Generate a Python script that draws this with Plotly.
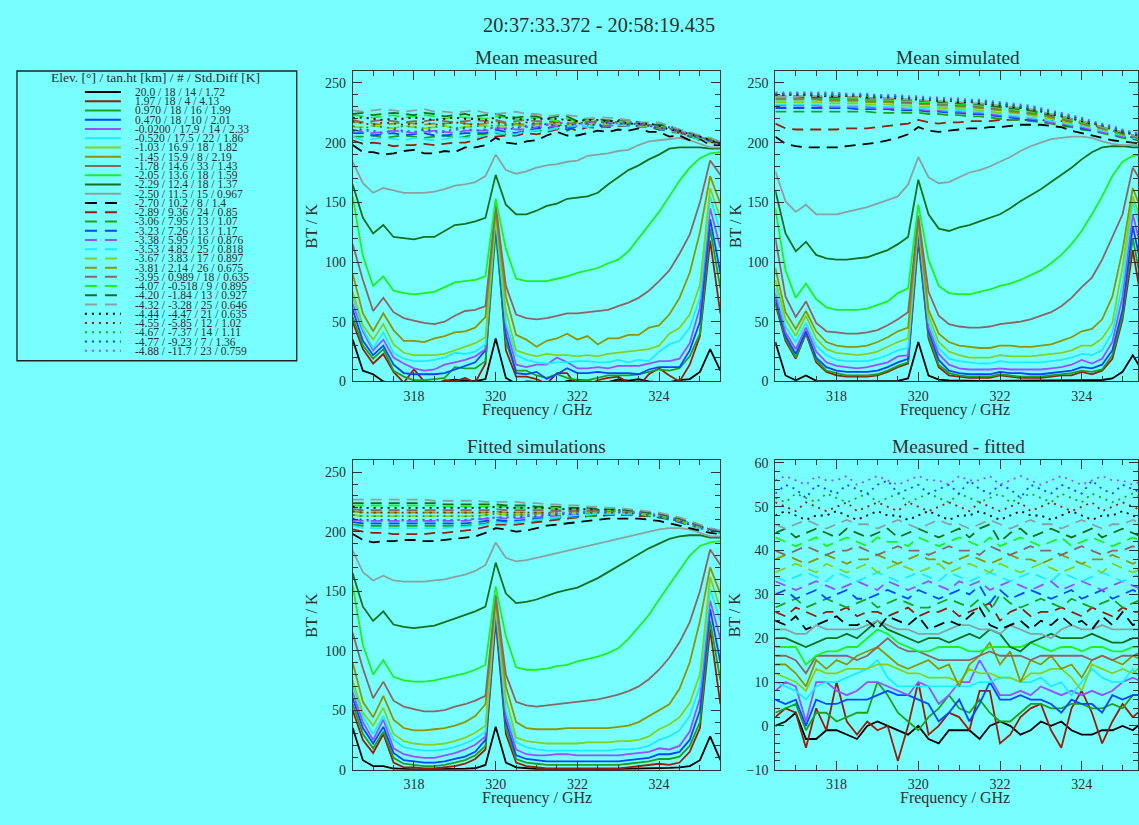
import plotly.graph_objects as go

# ---------------- data ----------------
freq_ghz = [316.50, 316.75, 317.00, 317.25, 317.50, 317.75, 318.00, 318.25, 318.50, 318.75,
            319.00, 319.25, 319.50, 319.75, 320.00, 320.25, 320.50, 320.75, 321.00, 321.25,
            321.50, 321.75, 322.00, 322.25, 322.50, 322.75, 323.00, 323.25, 323.50, 323.75,
            324.00, 324.25, 324.50, 324.75, 325.00, 325.25, 325.50]

elev_deg = ["20.0", "1.97", "0.970", "0.470", "-0.0200", "-0.520", "-1.03", "-1.45", "-1.78", "-2.05",
            "-2.29", "-2.50", "-2.70", "-2.89", "-3.06", "-3.23", "-3.38", "-3.53", "-3.67", "-3.81",
            "-3.95", "-4.07", "-4.20", "-4.32", "-4.44", "-4.55", "-4.67", "-4.77", "-4.88"]
tanht_km = ["18", "18", "18", "18", "17.9", "17.5", "16.9", "15.9", "14.6", "13.6",
            "12.4", "11.5", "10.2", "9.36", "7.95", "7.26", "5.95", "4.82", "3.83", "2.14",
            "0.989", "-0.518", "-1.84", "-3.28", "-4.47", "-5.85", "-7.37", "-9.23", "-11.7"]
n_spectra = ["14", "4", "16", "10", "14", "22", "18", "8", "33", "18",
             "18", "15", "8", "24", "13", "13", "16", "25", "17", "26",
             "18", "9", "13", "25", "21", "12", "14", "7", "23"]
std_diff_k = ["1.72", "4.13", "1.99", "2.01", "2.33", "1.86", "1.82", "2.19", "1.43", "1.59",
              "1.37", "0.967", "1.4", "0.85", "1.07", "1.17", "0.876", "0.818", "0.897", "0.675",
              "0.635", "0.895", "0.927", "0.646", "0.635", "1.02", "1.11", "1.36", "0.759"]

# fitted simulations (K)
fit_0 = [35, 8, 3, 3, 1, 0.5, 0.3, 0.3, 0.3, 0.4, 0.5, 0.8, 1.2, 4, 36, 6, 2, 1, 0.6, 0.5, 0.4, 0.4, 0.5, 0.5, 0.5, 0.5, 0.6, 0.7, 0.8, 1, 1.2, 1.5, 2, 3, 8, 28, 8]
fit_1 = [50, 25, 14, 30, 6, 2, 2, 1, 1, 2, 3, 5, 9, 17, 125, 30, 6, 3, 2, 1, 1, 1, 1, 1, 1, 1, 1, 2, 3, 4, 5, 4, 6, 15, 35, 118, 55]
fit_2 = [55, 30, 18, 32, 10, 5, 4, 3, 3, 4, 6, 8, 12, 20, 130, 35, 9, 6, 5, 4, 4, 4, 4, 4, 4, 4, 4, 5, 6, 7, 9, 9, 11, 20, 40, 125, 75]
fit_3 = [60, 35, 22, 36, 14, 8, 7, 6, 6, 7, 9, 11, 15, 25, 133, 40, 12, 9, 8, 7, 7, 7, 7, 7, 7, 7, 7, 8, 9, 10, 13, 13, 15, 25, 50, 135, 90]
fit_4 = [65, 40, 25, 42, 18, 13, 11, 10, 10, 12, 14, 17, 21, 28, 136, 45, 17, 13, 12, 12, 13, 13, 12, 12, 12, 12, 12, 13, 14, 15, 18, 17, 20, 32, 60, 142, 110]
fit_5 = [70, 45, 30, 45, 25, 19, 17, 16, 16, 17, 19, 22, 26, 32, 138, 50, 23, 19, 17, 16, 16, 16, 16, 16, 16, 16, 17, 17, 18, 20, 25, 28, 33, 45, 70, 152, 125]
fit_6 = [75, 48, 37, 52, 30, 24, 22, 21, 21, 22, 24, 27, 31, 37, 140, 60, 27, 24, 23, 22, 22, 22, 22, 23, 23, 23, 24, 24, 25, 28, 34, 38, 44, 56, 80, 162, 135]
fit_7 = [90, 57, 44, 62, 42, 35, 33, 33, 34, 35, 37, 40, 45, 55, 143, 70, 40, 35, 34, 34, 34, 35, 35, 35, 35, 35, 36, 37, 40, 45, 50, 55, 68, 90, 125, 170, 148]
fit_8 = [115, 85, 60, 74, 58, 53, 51, 49, 49, 50, 53, 55, 58, 62, 147, 80, 57, 54, 53, 54, 55, 56, 57, 58, 59, 61, 63, 66, 70, 76, 84, 94, 107, 124, 150, 185, 172]
fit_9 = [155, 105, 80, 92, 78, 75, 74, 74, 75, 77, 79, 81, 84, 88, 154, 112, 86, 84, 84, 85, 87, 88, 91, 93, 95, 98, 102, 110, 120, 130, 143, 155, 168, 180, 188, 191, 192]
fit_10 = [165, 137, 125, 133, 122, 120, 119, 120, 121, 124, 127, 130, 133, 137, 174, 148, 140, 141, 143, 146, 149, 151, 153, 157, 161, 166, 171, 176, 181, 186, 190, 194, 196, 197, 197, 195, 195]
fit_11 = [184, 166, 159, 163, 159, 158, 158, 158, 159, 160, 162, 164, 167, 172, 191, 178, 175, 176, 178, 180, 182, 184, 186, 188, 190, 192, 194, 196, 198, 200, 202, 203, 203, 202, 199, 196, 196]
fit_12 = [198, 193, 191, 192, 192, 193, 193, 192, 192, 193, 194, 195, 196, 199, 203, 202, 200, 201, 203, 205, 206, 207, 208, 209, 210, 211, 211, 211, 211, 210, 209, 207, 205, 203, 201, 199, 198]
fit_13 = [202, 200, 199, 199, 198, 198, 198, 198, 199, 199, 200, 201, 202, 204, 206, 206, 206, 207, 208, 209, 210, 211, 212, 213, 213, 214, 214, 214, 213, 213, 212, 211, 209, 207, 204, 202, 200]
fit_14 = [206, 205, 205, 205, 205, 205, 205, 205, 205, 205, 205, 205, 206, 207, 209, 208, 208, 209, 210, 211, 211, 212, 212, 213, 213, 214, 214, 214, 214, 213, 212, 210, 208, 205, 203, 201, 199]
fit_15 = [208, 207, 207, 207, 207, 207, 207, 207, 207, 207, 207, 207, 208, 209, 210, 209, 209, 210, 211, 212, 212, 213, 213, 214, 214, 214, 215, 215, 214, 214, 212, 211, 208, 206, 203, 201, 199]
fit_16 = [210, 209, 209, 209, 209, 209, 209, 209, 209, 209, 209, 209, 210, 211, 212, 211, 211, 212, 212, 213, 213, 214, 214, 215, 215, 215, 215, 215, 215, 214, 213, 211, 209, 206, 203, 201, 199]
fit_17 = [205, 203, 203, 203, 203, 203, 203, 203, 203, 203, 204, 204, 205, 206, 208, 207, 208, 209, 210, 211, 212, 213, 214, 214, 215, 215, 215, 215, 215, 214, 213, 211, 209, 206, 203, 201, 199]
fit_18 = [214, 213, 213, 213, 213, 213, 213, 213, 213, 213, 213, 213, 213, 214, 215, 214, 214, 214, 215, 215, 215, 215, 216, 216, 216, 216, 216, 216, 215, 214, 213, 211, 209, 206, 204, 201, 200]
fit_19 = [217, 216, 216, 216, 216, 216, 216, 216, 216, 216, 216, 216, 216, 216, 217, 216, 216, 216, 216, 216, 217, 217, 217, 217, 217, 217, 217, 216, 216, 215, 213, 211, 209, 207, 204, 202, 200]
fit_20 = [219, 218, 218, 218, 218, 218, 218, 218, 218, 218, 218, 218, 218, 218, 219, 218, 218, 218, 218, 218, 218, 218, 218, 218, 218, 218, 217, 217, 216, 215, 214, 212, 210, 207, 204, 202, 200]
fit_21 = [222, 222, 222, 222, 222, 222, 222, 222, 222, 221, 221, 221, 221, 221, 221, 221, 220, 220, 220, 220, 219, 219, 219, 219, 219, 218, 218, 217, 216, 215, 214, 212, 210, 207, 204, 202, 200]
fit_22 = [224, 224, 224, 224, 224, 224, 224, 224, 224, 223, 223, 223, 223, 223, 223, 222, 222, 222, 221, 221, 221, 220, 220, 220, 219, 219, 219, 218, 217, 216, 215, 213, 211, 208, 205, 202, 200]
fit_23 = [227, 227, 227, 227, 227, 227, 227, 227, 226, 226, 226, 226, 226, 225, 225, 225, 225, 224, 224, 223, 223, 222, 222, 221, 221, 220, 220, 219, 218, 217, 216, 214, 212, 209, 206, 203, 201]
fit_24 = [221, 220, 220, 220, 220, 220, 220, 220, 220, 220, 220, 220, 220, 220, 221, 220, 220, 220, 220, 220, 219, 219, 219, 219, 218, 218, 218, 217, 216, 215, 214, 212, 210, 207, 204, 202, 200]
fit_25 = [217, 216, 216, 216, 216, 216, 216, 216, 216, 216, 216, 216, 216, 216, 217, 216, 216, 216, 216, 216, 216, 216, 217, 217, 217, 217, 217, 216, 216, 215, 213, 211, 209, 206, 204, 202, 200]
fit_26 = [214, 213, 213, 213, 213, 213, 213, 213, 213, 213, 213, 213, 213, 214, 215, 214, 214, 214, 215, 215, 215, 216, 216, 216, 217, 217, 217, 216, 216, 215, 213, 211, 209, 206, 204, 202, 200]
fit_27 = [211, 210, 210, 210, 210, 210, 210, 210, 210, 210, 210, 210, 211, 211, 212, 212, 212, 213, 213, 214, 214, 215, 215, 216, 216, 216, 216, 216, 215, 214, 213, 211, 209, 206, 204, 201, 200]
fit_28 = [209, 209, 209, 209, 209, 209, 209, 209, 209, 210, 210, 210, 211, 211, 212, 212, 213, 214, 214, 215, 216, 216, 216, 217, 217, 217, 217, 217, 216, 215, 214, 212, 210, 207, 204, 202, 201]

# measured minus fitted (K)
res_0 = [0, 1, 3, -3, -3, -1, -1, -2, -3, 0, 1, 0, -1, -2, 0, -3, -4, -1, -1, -1, -3, 0, 1, 0, -2, -1, 1, 0, 1, -1, -2, -2, -1, -1, 0, -1, 1]
res_1 = [0, 2, 1, -7, 2, -3, 8, -1, -4, -1, -3, -2, -10, -2, 8, -4, -2, 1, 0, -3, 6, 6, -6, -4, 0, 2, 3, -3, -7, 2, 6, 1, -6, -1, 3, 0, 2]
res_2 = [-1, 0, 1, -5, -1, -1, -3, -2, -1, -1, 6, 3, -1, -3, -5, -2, 0, 3, 0, -1, 2, -1, -3, -3, -1, 1, 1, 0, 0, 1, 1, 0, 0, 1, 0, 3, 3]
res_3 = [0, -1, 0, -6, 0, -1, -1, 0, 0, 0, 1, 2, 1, 1, 0, -1, -5, -3, 0, -5, -1, 4, 0, 0, 1, 0, 0, -1, -3, 0, -1, -1, -3, 1, 0, 1, 1]
res_4 = [0, 2, 1, -7, 2, 2, 0, -1, 0, 2, 2, 1, 0, -1, 2, 1, -3, -1, 2, 2, 7, 3, -1, -1, 0, -1, 1, 0, -1, 0, -1, 0, -1, 0, 2, 3, 2]
res_5 = [0, -1, -2, -4, -1, 0, 0, 1, 2, 3, 5, 1, -1, -1, -1, -1, -1, -1, -1, -1, 0, 0, 1, 1, 0, 0, 1, -1, 0, -3, 0, 3, 1, 0, 0, 3, 0]
res_6 = [0, -1, -2, -4, 1, 0, 0, 1, 1, 1, 2, 2, 1, 0, 0, -1, -1, -1, -2, 1, 0, 0, -1, -1, -2, 0, 0, 1, 1, -1, -4, 2, 1, 0, 1, 0, 2]
res_7 = [0, 0, -2, -5, 1, -1, 1, 0, 2, 3, 4, 2, 0, -1, 0, 1, -1, 0, -5, 0, 2, 5, 0, 3, -4, 1, 0, 2, -1, 0, -3, 1, 2, 1, 0, 2, 1]
res_8 = [0, 0, -1, -4, 0, 0, 0, 0, -1, 0, 2, 4, 2, 1, 1, 0, -1, -1, -1, -1, 0, 1, 0, 0, 0, -1, 0, 0, 0, 0, 0, -1, 0, -1, 0, 0, 1]
res_9 = [0, 0, 0, -4, -2, -1, -1, 0, 0, 2, 4, 3, 1, 0, -1, -1, 0, 0, 0, -1, -1, 0, 0, 0, 0, 1, 0, -1, 0, 0, -1, 0, 0, -1, -1, 0, 0]
res_10 = [0, 0, -1, -2, -1, 0, 0, 1, 0, 2, 4, 2, 1, 0, -1, 0, 0, -1, 0, 1, 0, 2, 1, -2, -3, -1, 0, 1, 0, 0, 0, 1, 0, -1, -1, 0, 0]
res_11 = [0, 0, -1, -1, 1, 0, 0, 0, 0, 1, 2, 1, 0, 0, -1, -1, -1, 0, 1, 1, 0, 0, -1, 1, 0, -1, -1, -2, 0, 1, 0, 0, 1, 0, 0, 0, 0]
res_12 = [0, -1, 1, -2, -1, 0, 1, -1, -1, 0, -2, 1, 0, -1, 1, -2, -1, 0, -1, 1, 3, -1, -2, -1, 0, -2, 0, -1, 1, -1, 0, -2, 1, -1, 2, -1, 0]
res_13 = [0, -1, 1, 0, -1, 0, 0, 1, -1, 0, 0, -1, 0, 1, -1, 0, 0, 1, -1, 0, 1, 2, -2, 0, 1, -1, 0, 0, 1, 0, -1, 1, 0, -1, 1, 0, 0]
res_14 = [-1, 0, 1, -1, 0, 1, 0, -1, 0, 1, -1, 0, 1, 0, -1, -1, 0, 1, 0, -1, 1, -2, 2, 0, -1, 0, 1, 0, -1, 1, 0, -1, 0, 1, -1, 0, 1]
res_15 = [0, 1, -1, 0, 1, -1, 0, 1, -1, -1, 0, 1, 0, -1, 1, 0, -1, 0, 1, 0, 2, -2, 1, -1, 0, 1, 0, -1, 0, 1, -1, 0, 1, -1, 0, 1, 0]
res_16 = [1, 0, -1, 0, 1, 0, -1, 0, 1, 0, -1, 1, 0, -1, 0, 1, 0, -1, 1, 0, 1, -1, 0, 1, 0, -1, 0, 1, -1, 0, 1, 0, -1, 0, 1, 0, -1]
res_17 = [0, -1, 0, 1, 0, -1, 1, 0, -1, 0, 1, 0, -1, 0, 1, 0, -1, 1, 0, -1, 0, 1, 0, -1, 0, 1, 0, -1, 1, 0, -1, 0, 1, 0, -1, 0, 1]
res_18 = [-1, 0, 1, 0, -1, 1, 0, -1, 0, 1, -1, 0, 1, 0, -1, 0, 1, -1, 0, 1, 0, -1, 1, 0, -1, 0, 1, 0, -1, 0, 1, 0, -1, 1, 0, -1, 0]
res_19 = [0, 1, 0, -1, 0, 1, 0, -1, 0, 0, 1, 0, -1, 0, 1, 0, 0, -1, 0, 1, 0, -1, 0, 1, 0, 0, -1, 0, 1, 0, -1, 0, 0, 1, 0, -1, 0]
res_20 = [0, -1, 0, 1, 0, -1, 0, 0, 1, 0, -1, 0, 1, 0, 0, -1, 0, 1, 0, 0, -1, 1, 0, -1, 0, 1, 0, 0, -1, 0, 1, 0, -1, 0, 0, 1, 0]
res_21 = [1, 0, -1, 0, 1, -1, 0, 1, 0, -1, 1, 0, 0, -1, 1, 0, -1, 0, 1, 0, -1, 1, -1, 0, 1, 0, -1, 0, 1, -1, 0, 1, 0, -1, 0, 1, 0]
res_22 = [0, 1, -1, 0, 1, 0, -1, 1, 0, -1, 0, 1, -1, 0, 1, 0, -1, 0, 1, -1, 1, 2, -2, 0, 1, -1, 0, 1, 0, -1, 0, 1, -1, 0, 1, 0, -1]
res_23 = [0, -1, 0, 1, 0, -1, 0, 1, 0, 0, -1, 0, 1, 0, -1, 0, 1, 0, 0, -1, 0, 1, 0, -1, 0, 1, 0, 0, -1, 0, 1, 0, -1, 0, 0, 1, 0]
res_24 = [0, 1, 0, -1, 0, 0, 1, 0, -1, 0, 1, 0, 0, -1, 0, 1, 0, -1, 0, 0, 1, 0, -1, 0, 1, 0, 0, -1, 0, 1, 0, -1, 0, 0, 1, 0, -1]
res_25 = [1, 0, -1, 1, 0, -1, 0, 1, -1, 0, 1, 0, -1, 1, 0, -1, 0, 1, 0, -1, 1, 0, -1, 0, 1, -1, 0, 1, 0, -1, 0, 1, -1, 0, 1, 0, -1]
res_26 = [0, -1, 1, 0, -1, 1, 0, -1, 0, 1, -1, 0, 1, -1, 0, 1, 0, -1, 1, 0, -1, 0, 1, -1, 0, 1, 0, -1, 1, 0, -1, 1, 0, -1, 0, 1, 0]
res_27 = [-1, 1, 0, -2, 1, 0, -1, 1, 0, -1, 1, 2, -1, 0, 1, -1, 0, 1, -1, 2, 0, -1, 1, 0, -2, 1, 0, -1, 1, 0, -1, 2, 0, -1, 1, 0, -1]
res_28 = [0, 1, 0, -1, 1, 0, 0, 1, -1, 0, 1, 0, -1, 0, 1, 0, 0, -1, 1, 0, 0, 1, -1, 0, 1, 0, -1, 0, 1, 0, -1, 0, 1, 0, 0, -1, 0]

# mean simulated (K)
sim_0 = [33, 5, 1, 5, 0.5, 0.3, 0.3, 0.3, 0.3, 0.3, 0.3, 0.4, 0.5, 2.5, 33, 5, 1.5, 0.8, 0.5, 0.4, 0.4, 0.4, 0.4, 0.4, 0.4, 0.4, 0.4, 0.5, 0.5, 0.6, 0.8, 1, 1.2, 2.5, 8, 22, 8]
sim_1 = [65, 34, 19, 40, 16, 8, 5, 4, 4, 4, 5, 8, 12, 15, 118, 36, 12, 5, 4, 3, 3, 3, 5, 4, 3, 3, 3, 4, 5, 5, 8, 6, 9, 19, 52, 110, 60]
sim_2 = [67, 36, 20, 41, 18, 9, 7, 5, 5, 5, 6, 9, 13, 16, 122, 38, 14, 7, 5, 4, 4, 4, 6, 5, 4, 4, 4, 5, 6, 7, 9, 8, 10, 22, 55, 120, 75]
sim_3 = [70, 38, 23, 42, 20, 12, 9, 8, 8, 8, 9, 12, 16, 19, 126, 42, 18, 9, 7, 6, 6, 6, 8, 7, 7, 6, 6, 7, 8, 9, 12, 11, 14, 26, 60, 130, 90]
sim_4 = [74, 41, 27, 45, 25, 16, 13, 12, 11, 12, 14, 16, 21, 22, 130, 45, 23, 14, 11, 10, 10, 10, 11, 10, 10, 10, 10, 11, 12, 14, 18, 15, 19, 33, 71, 140, 105]
sim_5 = [78, 46, 33, 49, 30, 22, 18, 17, 17, 17, 19, 22, 26, 28, 132, 50, 28, 19, 17, 16, 15, 15, 17, 16, 16, 16, 16, 17, 18, 20, 23, 22, 26, 41, 82, 150, 120]
sim_6 = [85, 52, 38, 55, 36, 27, 24, 23, 22, 23, 25, 29, 33, 36, 134, 55, 33, 25, 22, 20, 20, 20, 22, 21, 21, 21, 22, 23, 24, 26, 30, 30, 36, 49, 96, 155, 130]
sim_7 = [95, 58, 44, 59, 42, 33, 30, 29, 29, 30, 33, 37, 42, 45, 136, 60, 40, 33, 30, 29, 28, 28, 30, 30, 29, 29, 30, 31, 34, 37, 42, 44, 52, 71, 110, 162, 140]
sim_8 = [120, 71, 54, 67, 49, 42, 41, 40, 40, 41, 43, 47, 52, 58, 139, 75, 55, 48, 46, 45, 45, 46, 48, 49, 50, 52, 55, 58, 63, 70, 79, 87, 102, 121, 140, 179, 165]
sim_9 = [145, 93, 70, 82, 69, 62, 60, 60, 60, 61, 64, 67, 74, 78, 148, 102, 80, 74, 73, 73, 75, 77, 80, 82, 85, 89, 93, 99, 106, 115, 126, 140, 155, 172, 184, 189, 190]
sim_10 = [160, 124, 109, 117, 106, 103, 102, 102, 103, 104, 107, 110, 115, 121, 169, 140, 128, 126, 129, 131, 134, 137, 140, 145, 151, 156, 161, 167, 173, 179, 186, 192, 196, 197, 197, 196, 196]
sim_11 = [176, 151, 142, 148, 140, 140, 140, 142, 144, 146, 149, 152, 155, 165, 188, 171, 166, 167, 171, 175, 177, 180, 184, 188, 193, 197, 200, 203, 204, 205, 205, 204, 201, 199, 198, 198, 198]
sim_12 = [205, 199, 197, 196, 196, 196, 196, 197, 198, 199, 200, 202, 204, 207, 213, 210, 209, 210, 211, 212, 212, 213, 213, 214, 215, 215, 215, 214, 213, 210, 208, 206, 204, 202, 201, 200, 199]
sim_13 = [216, 212, 211, 211, 211, 211, 211, 212, 212, 212, 213, 214, 215, 216, 219, 217, 216, 217, 217, 218, 218, 218, 219, 219, 219, 219, 219, 218, 218, 217, 217, 215, 213, 210, 208, 204, 202]
sim_14 = [226, 226, 226, 226, 226, 226, 226, 226, 226, 226, 225, 225, 225, 225, 225, 224, 224, 223, 223, 222, 222, 221, 220, 219, 219, 218, 217, 216, 214, 213, 211, 210, 208, 206, 204, 203, 201]
sim_15 = [229, 229, 229, 229, 229, 229, 229, 229, 228, 228, 228, 228, 227, 227, 227, 226, 226, 225, 225, 224, 224, 223, 222, 221, 220, 219, 218, 217, 215, 214, 212, 210, 209, 207, 205, 203, 202]
sim_16 = [231, 231, 231, 231, 231, 230, 230, 230, 230, 230, 229, 229, 229, 228, 228, 227, 227, 226, 226, 225, 225, 224, 223, 222, 221, 220, 219, 217, 216, 214, 213, 211, 209, 207, 205, 204, 202]
sim_17 = [232, 232, 232, 232, 232, 231, 231, 231, 231, 231, 230, 230, 230, 229, 229, 228, 228, 227, 227, 226, 226, 225, 224, 223, 222, 221, 220, 218, 217, 215, 214, 212, 210, 208, 206, 204, 203]
sim_18 = [234, 234, 234, 234, 234, 233, 233, 233, 233, 232, 232, 232, 231, 231, 230, 230, 229, 229, 228, 228, 227, 226, 225, 225, 224, 223, 221, 220, 218, 216, 215, 213, 211, 209, 207, 205, 203]
sim_19 = [236, 236, 236, 236, 236, 235, 235, 235, 235, 234, 234, 234, 233, 233, 232, 232, 231, 231, 230, 230, 229, 228, 227, 226, 225, 224, 223, 221, 219, 218, 216, 214, 212, 209, 207, 205, 203]
sim_20 = [237, 237, 237, 237, 237, 236, 236, 236, 236, 235, 235, 235, 234, 234, 233, 233, 232, 232, 231, 231, 230, 229, 228, 227, 226, 225, 224, 222, 220, 218, 216, 214, 212, 210, 208, 205, 203]
sim_21 = [238, 238, 238, 238, 238, 237, 237, 237, 237, 236, 236, 236, 235, 235, 234, 234, 233, 233, 232, 232, 231, 230, 229, 228, 227, 226, 225, 223, 221, 219, 217, 215, 213, 210, 208, 206, 204]
sim_22 = [239, 239, 239, 238, 238, 238, 238, 238, 238, 237, 237, 237, 236, 236, 235, 235, 234, 234, 233, 233, 232, 231, 230, 229, 228, 227, 225, 223, 222, 220, 218, 215, 213, 211, 208, 206, 204]
sim_23 = [239, 239, 239, 239, 239, 239, 239, 238, 238, 238, 237, 237, 237, 236, 236, 235, 235, 234, 234, 233, 233, 232, 231, 230, 229, 228, 226, 224, 222, 220, 218, 216, 213, 211, 209, 206, 204]
sim_24 = [240, 240, 240, 240, 239, 239, 239, 239, 239, 238, 238, 238, 237, 237, 236, 236, 235, 235, 234, 234, 233, 232, 231, 230, 229, 228, 226, 224, 222, 220, 218, 216, 214, 211, 209, 207, 205]
sim_25 = [240, 240, 240, 240, 240, 240, 240, 239, 239, 239, 238, 238, 238, 237, 237, 236, 236, 235, 235, 234, 234, 233, 232, 231, 230, 228, 227, 225, 223, 221, 219, 216, 214, 212, 209, 207, 205]
sim_26 = [241, 241, 241, 241, 240, 240, 240, 240, 240, 239, 239, 239, 238, 238, 237, 237, 236, 236, 235, 235, 234, 233, 232, 231, 230, 229, 227, 225, 223, 221, 219, 217, 214, 212, 210, 208, 206]
sim_27 = [241, 241, 241, 241, 241, 241, 241, 240, 240, 240, 239, 239, 239, 238, 238, 237, 237, 236, 236, 235, 235, 234, 233, 232, 231, 230, 228, 226, 224, 222, 220, 217, 215, 213, 210, 208, 206]
sim_28 = [242, 242, 242, 242, 242, 242, 242, 241, 241, 241, 240, 240, 240, 239, 239, 238, 238, 237, 237, 236, 236, 235, 234, 233, 232, 231, 229, 227, 225, 223, 221, 218, 216, 214, 211, 209, 207]

fitted = [fit_0, fit_1, fit_2, fit_3, fit_4, fit_5, fit_6, fit_7, fit_8, fit_9, fit_10, fit_11, fit_12, fit_13, fit_14,
          fit_15, fit_16, fit_17, fit_18, fit_19, fit_20, fit_21, fit_22, fit_23, fit_24, fit_25, fit_26, fit_27, fit_28]
residual = [res_0, res_1, res_2, res_3, res_4, res_5, res_6, res_7, res_8, res_9, res_10, res_11, res_12, res_13, res_14,
            res_15, res_16, res_17, res_18, res_19, res_20, res_21, res_22, res_23, res_24, res_25, res_26, res_27, res_28]
simulated = [sim_0, sim_1, sim_2, sim_3, sim_4, sim_5, sim_6, sim_7, sim_8, sim_9, sim_10, sim_11, sim_12, sim_13, sim_14,
             sim_15, sim_16, sim_17, sim_18, sim_19, sim_20, sim_21, sim_22, sim_23, sim_24, sim_25, sim_26, sim_27, sim_28]
measured = [[f + r for f, r in zip(fs, rs)] for fs, rs in zip(fitted, residual)]

# ---------------- style ----------------
W, H = 1139, 825
BG = "#77ffff"
TXT = "#2e2e2e"
AX = "#333333"
FONT = "Liberation Serif"

palette = ["#000000", "#961e0a", "#1ea01e", "#0a46ff", "#9650ff", "#1eebff",
           "#82d21e", "#8c9600", "#8c6464", "#1ef01e", "#146e1e", "#8ca0a0"]
colors = palette + palette + palette[:5]
dashes = ["solid"] * 12 + ["11px,7px"] * 12 + ["2px,5px"] * 5


def px(x):
    return x / W


def py(y):
    return 1 - y / H


fig = go.Figure()

panels = [("x", "y", measured, 0), ("x2", "y2", simulated, 0), ("x3", "y3", fitted, 0), ("x4", "y4", None, 1)]
for xa, ya, data, mode in panels:
    for i in range(29):
        if mode == 0:
            yy = data[i]
        else:
            yy = [m - f + 2 * i for m, f in zip(measured[i], fitted[i])]
        fig.add_trace(go.Scatter(
            x=freq_ghz, y=yy, xaxis=xa, yaxis=ya, mode="lines",
            line=dict(color=colors[i], width=1.8, dash=dashes[i]),
            showlegend=False, hoverinfo="skip"))


def xax(dom, rng, anchor):
    return dict(domain=dom, range=rng, anchor=anchor, showline=True, linecolor=AX, linewidth=1, mirror="ticks",
                ticks="inside", ticklen=9, tickwidth=1, tickcolor=AX, tick0=318, dtick=2,
                tickfont=dict(family=FONT, size=14, color=TXT), showgrid=False, zeroline=False,
                ticklabelstandoff=2,
                minor=dict(ticks="inside", ticklen=5, tickcolor=AX, tick0=318, dtick=0.5, showgrid=False))


def yax(dom, rng, dt, mdt, anchor):
    return dict(domain=dom, range=rng, anchor=anchor, showline=True, linecolor=AX, linewidth=1, mirror="ticks",
                ticks="inside", ticklen=9, tickwidth=1, tickcolor=AX, tick0=0, dtick=dt,
                tickfont=dict(family=FONT, size=14, color=TXT), showgrid=False, zeroline=False,
                ticklabelstandoff=3,
                minor=dict(ticks="inside", ticklen=5, tickcolor=AX, tick0=0, dtick=mdt, showgrid=False))


xl = [px(353), px(721)]
xr = [px(776), 1.0]
yt = [py(383), py(68)]
yb = [py(777), py(463)]
xr_max = 316.5 + (W - 776) / (368 / 9.0)

fig.update_layout(
    width=W, height=H, margin=dict(l=0, r=0, t=0, b=0),
    paper_bgcolor=BG, plot_bgcolor=BG,
    font=dict(family=FONT, color=TXT),
    xaxis=xax(xl, [316.5, 325.5], "y"), yaxis=yax(yt, [0, 260], 50, 10, "x"),
    xaxis2=xax(xr, [316.5, xr_max], "y2"), yaxis2=yax(yt, [0, 260], 50, 10, "x2"),
    xaxis3=xax(xl, [316.5, 325.5], "y3"), yaxis3=yax(yb, [0, 260], 50, 10, "x3"),
    xaxis4=xax(xr, [316.5, xr_max], "y4"), yaxis4=yax(yb, [-10, 60.6], 10, 2, "x4"),
)

ann = []


def text(x, y, s, size, angle=0, xanchor="center"):
    ann.append(dict(x=px(x), y=py(y), xref="paper", yref="paper", text=s, showarrow=False,
                    xanchor=xanchor, yanchor="middle", textangle=angle, borderpad=0,
                    font=dict(family=FONT, size=size, color=TXT)))


text(600, 21, "20:37:33.372 - 20:58:19.435", 20.3)
text(537, 54, "Mean measured", 19.3)
text(959, 54, "Mean simulated", 19.3)
text(537, 449, "Fitted simulations", 19.3)
text(959, 449, "Measured - fitted", 19.3)
for cx, cy in [(537, 412), (956, 412), (537, 806), (956, 806)]:
    text(cx, cy, "Frequency / GHz", 16)
for cx, cy in [(312, 225), (736, 225), (312, 620), (736, 620)]:
    text(cx, cy, "BT / K", 16, angle=-90)

# legend box
shapes = [dict(type="rect", xref="paper", yref="paper", x0=px(17), x1=px(297), y0=py(362), y1=py(68),
               line=dict(color="#222222", width=1.3), fillcolor="rgba(0,0,0,0)")]
text(156, 74.5, "Elev. [°] / tan.ht [km] / # / Std.Diff [K]", 13.5)
leg_dash = ["solid"] * 12 + ["12px,8px"] * 12 + ["2px,5px"] * 5
for i in range(29):
    yrow = 89.3 + 9.38 * i
    shapes.append(dict(type="line", xref="paper", yref="paper", x0=px(85), x1=px(121), y0=py(yrow), y1=py(yrow),
                       line=dict(color=colors[i], width=2, dash=leg_dash[i])))
    label = f"{elev_deg[i]} / {tanht_km[i]} / {n_spectra[i]} / {std_diff_k[i]}"
    text(134, yrow, label, 11.5, xanchor="left")

fig.update_layout(annotations=ann, shapes=shapes)

fig.write_html("out.html", config={"displayModeBar": False},
               post_script="document.body.style.margin='0px';document.body.style.overflow='hidden';")
